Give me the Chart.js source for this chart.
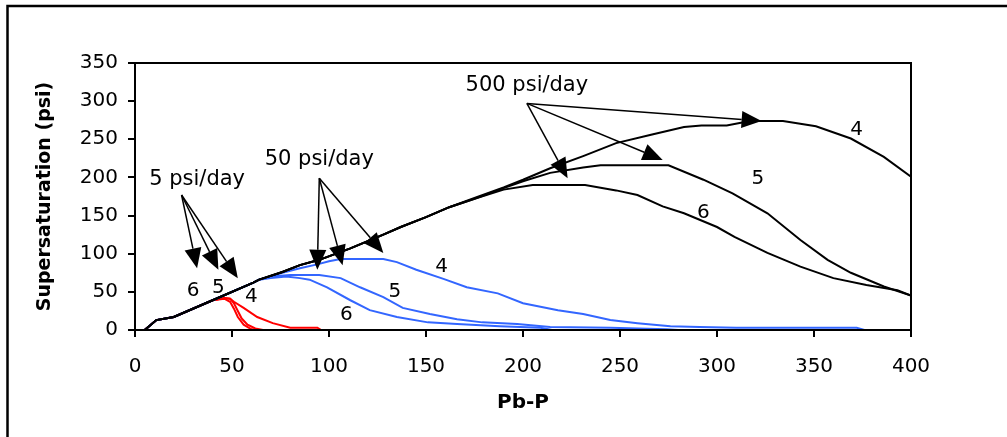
<!DOCTYPE html>
<html>
<head>
<meta charset="utf-8">
<script src="https://cdn.jsdelivr.net/npm/chart.js@4.4.1/dist/chart.umd.min.js"></script>
<style>
  html, body { margin: 0; padding: 0; background: #fff; }
  canvas { display: block; }
</style>
</head>
<body>
<canvas id="chart" width="1007" height="437"></canvas>
<script>
/* Supersaturation vs Pb-P, three depletion rates (5, 50, 500 psi/day) x cases 4/5/6 */

// shared start of every curve (they all ride the same line until they peel off)
const riseX = [5, 11, 20, 40, 61, 64];
const riseY = [0, 13, 17, 39, 62, 66];

// 500 psi/day (black)
const black4X = [76, 85, 95, 111, 128, 137, 150, 162, 175, 190, 200, 214, 231, 248, 266, 283, 292, 305, 317, 334, 351, 369, 386, 400];
const black4Y = [76, 85, 92, 107, 125, 135, 148, 161, 173, 187, 197, 212, 228, 245, 256, 266, 268, 268, 274, 274, 267, 251, 227, 201];
const black5X = [76, 85, 95, 111, 128, 137, 150, 162, 175, 190, 200, 214, 231, 240, 275, 293, 308, 326, 343, 357, 369, 386, 400];
const black5Y = [76, 85, 92, 107, 125, 135, 148, 161, 172, 186, 195, 206, 213, 216, 216, 197, 179, 153, 118, 92, 75, 57, 45];
const black6X = [76, 85, 95, 111, 128, 137, 150, 162, 175, 190, 205, 232, 248, 259, 272, 283, 300, 309, 326, 343, 360, 377, 393, 400];
const black6Y = [76, 85, 92, 107, 125, 135, 148, 161, 172, 184, 190, 190, 183, 177, 162, 153, 135, 122, 101, 83, 68, 59, 52, 45];

// 50 psi/day (blue)
const blue4X = [76, 85, 94, 100, 106, 111, 128, 135, 145, 159, 171, 187, 200, 218, 231, 245, 259, 276, 291, 310, 372, 376, 400];
const blue4Y = [75, 81, 86, 90, 93, 93, 93, 89, 79, 67, 56, 48, 35, 26, 21, 13, 9, 5, 4, 3, 3, 0, 0];
const blue5X = [70, 80, 95, 106, 116, 128, 138, 152, 166, 179, 197, 214, 245, 274, 280, 400];
const blue5Y = [70, 72, 72, 68, 56, 43, 29, 21, 14, 10, 8, 4, 3, 1, 0, 0];
const blue6X = [70, 78, 85, 90, 99, 111, 121, 135, 151, 166, 188, 209, 215, 400];
const blue6Y = [68, 70, 68, 66, 56, 39, 26, 17, 10, 8, 5, 3, 0, 0];

// 5 psi/day (red)
const red4X = [5, 11, 20, 40, 46, 49, 51, 56, 63, 71, 80, 94, 96, 190];
const red4Y = [0, 13, 17, 39, 42, 41, 37, 29, 17, 9, 3, 3, 0, 0];
const red5X = [5, 11, 20, 40, 46, 49, 51, 53, 55, 58, 62, 66, 90];
const red5Y = [0, 13, 17, 39, 42, 41, 35, 25, 15, 7, 2, 0, 0];
const red6X = [5, 11, 20, 40, 46, 49, 51, 53, 56, 60, 63];
const red6Y = [0, 13, 17, 39, 41, 37, 28, 17, 7, 1, 0];

// annotations (data units)
const noteText = ['5 psi/day', '50 psi/day', '500 psi/day'];
const noteX    = [32, 95, 202];
const noteY    = [197, 223, 321];
const fromX    = [24, 95, 202];
const fromY    = [177, 199, 297];
const tipX     = [[32, 43, 53], [94, 107, 128], [323, 272, 223]];
const tipY     = [[81, 79, 68], [79, 85, 101], [274, 223, 199]];

const caseText = ['6', '5', '4', '4', '5', '6', '4', '5', '6'];
const caseX    = [30, 43, 60, 158, 134, 109, 372, 321, 293];
const caseY    = [51, 55, 44, 83, 50, 20, 263, 198, 153];

function pts(xs, ys) { return xs.map((x, i) => ({ x: x, y: ys[i] })); }
function withRise(xs, ys) { return pts(riseX.concat(xs), riseY.concat(ys)); }

const BLACK = '#000000', BLUE = '#3366ff', RED = '#ff0000';
const FONT = '"DejaVu Sans", sans-serif';

function line(data, color) {
  return { data: data, borderColor: color, borderWidth: 2, pointRadius: 0, tension: 0, fill: false };
}

function arrow(ctx, x1, y1, x2, y2) {
  const a = Math.atan2(y2 - y1, x2 - x1);
  const len = 20, half = 8.5;
  const bx = x2 - len * Math.cos(a), by = y2 - len * Math.sin(a);
  ctx.beginPath();
  ctx.moveTo(x1, y1);
  ctx.lineTo(bx, by);
  ctx.stroke();
  ctx.beginPath();
  ctx.moveTo(x2, y2);
  ctx.lineTo(bx + half * Math.sin(a), by - half * Math.cos(a));
  ctx.lineTo(bx - half * Math.sin(a), by + half * Math.cos(a));
  ctx.closePath();
  ctx.fill();
}

const decor = {
  id: 'decor',
  afterDraw(chart) {
    const ctx = chart.ctx, a = chart.chartArea;
    const sx = chart.scales.x, sy = chart.scales.y;
    ctx.save();
    // outer frame (left + top only visible)
    ctx.strokeStyle = BLACK;
    ctx.lineWidth = 2.5;
    ctx.beginPath();
    ctx.moveTo(7.5, 440);
    ctx.lineTo(7.5, 6);
    ctx.lineTo(1010, 6);
    ctx.stroke();
    // plot box
    ctx.lineWidth = 2;
    ctx.strokeRect(a.left, a.top, a.right - a.left, a.bottom - a.top);

    // arrows
    ctx.lineWidth = 1.5;
    ctx.fillStyle = BLACK;
    for (let i = 0; i < fromX.length; i++) {
      const x1 = sx.getPixelForValue(fromX[i]), y1 = sy.getPixelForValue(fromY[i]);
      for (let j = 0; j < tipX[i].length; j++) {
        arrow(ctx, x1, y1, sx.getPixelForValue(tipX[i][j]), sy.getPixelForValue(tipY[i][j]));
      }
    }

    // text
    ctx.textAlign = 'center';
    ctx.textBaseline = 'middle';
    ctx.font = '21px ' + FONT;
    noteText.forEach((t, i) => ctx.fillText(t, sx.getPixelForValue(noteX[i]), sy.getPixelForValue(noteY[i])));
    ctx.font = '20px ' + FONT;
    caseText.forEach((t, i) => ctx.fillText(t, sx.getPixelForValue(caseX[i]), sy.getPixelForValue(caseY[i])));
    ctx.restore();
  }
};

const axisCommon = {
  type: 'linear',
  grid: { drawOnChartArea: false, drawTicks: true, tickLength: 7, color: BLACK, lineWidth: 2 },
  border: { display: true, color: BLACK, width: 2 }
};

new Chart(document.getElementById('chart'), {
  type: 'line',
  data: {
    datasets: [
      line(withRise(black4X, black4Y), BLACK),
      line(withRise(black5X, black5Y), BLACK),
      line(withRise(black6X, black6Y), BLACK),
      line(withRise(blue4X, blue4Y), BLUE),
      line(withRise(blue5X, blue5Y), BLUE),
      line(withRise(blue6X, blue6Y), BLUE),
      line(pts(red4X, red4Y), RED),
      line(pts(red5X, red5Y), RED),
      line(pts(red6X, red6Y), RED)
    ]
  },
  options: {
    responsive: false,
    animation: false,
    devicePixelRatio: 1,
    layout: { padding: { top: 63, right: 96, left: 0, bottom: 0 } },
    plugins: { legend: { display: false }, tooltip: { enabled: false } },
    scales: {
      x: Object.assign({}, axisCommon, {
        min: 0, max: 400,
        ticks: { stepSize: 50, color: BLACK, padding: 18, font: { family: FONT, size: 20 }, maxRotation: 0 },
        title: { display: true, text: 'Pb-P', color: BLACK, font: { family: FONT, size: 20, weight: 'bold' }, padding: { top: 0, bottom: 22 } },
        afterFit(s) { s.height = 107; }
      }),
      y: Object.assign({}, axisCommon, {
        min: 0, max: 350,
        ticks: { stepSize: 50, color: BLACK, padding: 10, font: { family: FONT, size: 20 } },
        title: { display: true, text: 'Supersaturation (psi)', color: BLACK, font: { family: FONT, size: 19, weight: 'bold' }, padding: { top: 34, bottom: 0 } },
        afterFit(s) { s.width = 135; }
      })
    }
  },
  plugins: [decor]
});
</script>
</body>
</html>
